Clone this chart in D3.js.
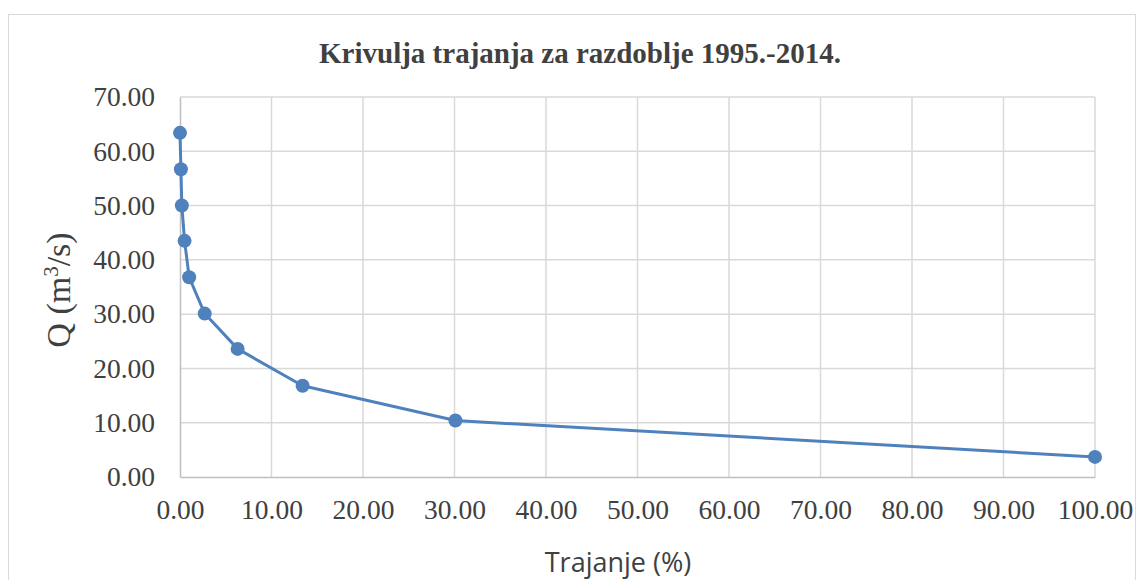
<!DOCTYPE html>
<html lang="hr">
<head>
<meta charset="UTF-8">
<title>Krivulja trajanja</title>
<script src="https://d3js.org/d3.v7.min.js"></script>
<style>
  body { margin: 0; background: #fff; }
  svg text { fill: #404040; }
</style>
</head>
<body>
<div id="chart"></div>
<script>
// Trajanje (%) and Q (m3/s)
const trajanje = [0.0, 0.1, 0.2, 0.5, 1.0, 2.7, 6.3, 13.4, 30.1, 100.0];
const protok = [63.4, 56.7, 50.0, 43.5, 36.8, 30.1, 23.6, 16.8, 10.4, 3.7];
const xTicks = [0, 10, 20, 30, 40, 50, 60, 70, 80, 90, 100];
const yTicks = [0, 10, 20, 30, 40, 50, 60, 70];

const W = 1137, H = 580;
const margin = { top: 97, right: 42, bottom: 103, left: 180 };
const width = W - margin.left - margin.right;
const height = H - margin.top - margin.bottom;

const svg = d3.select("#chart").append("svg")
    .attr("width", W).attr("height", H);

// chart border
svg.append("rect")
    .attr("x", 8.5).attr("y", 14.5)
    .attr("width", W - 10).attr("height", H)
    .attr("fill", "none").attr("stroke", "#d9d9d9");

svg.append("text")
    .attr("x", 580).attr("y", 63)
    .attr("text-anchor", "middle")
    .style("font-family", "'Liberation Serif', serif")
    .style("font-weight", "bold")
    .style("font-size", "29px")
    .text("Krivulja trajanja za razdoblje 1995.-2014.");

const g = svg.append("g").attr("transform", `translate(${margin.left},${margin.top})`);

const x = d3.scaleLinear().domain([0, 100]).range([0, width]);
const y = d3.scaleLinear().domain([0, 70]).range([height, 0]);

// gridlines
g.append("g").selectAll("line").data(xTicks.slice(1)).enter().append("line")
    .attr("x1", d => x(d)).attr("x2", d => x(d))
    .attr("y1", 0).attr("y2", height)
    .attr("stroke", "#d9d9d9").attr("stroke-width", 1.5);
g.append("g").selectAll("line").data(yTicks.slice(1)).enter().append("line")
    .attr("x1", 0).attr("x2", width)
    .attr("y1", d => y(d)).attr("y2", d => y(d))
    .attr("stroke", "#d9d9d9").attr("stroke-width", 1.5);

// axes
const xAxis = g.append("g").attr("transform", `translate(0,${height})`)
    .call(d3.axisBottom(x).tickValues(xTicks).tickSize(0).tickPadding(22).tickFormat(d3.format(".2f")));
const yAxis = g.append("g")
    .call(d3.axisLeft(y).tickValues(yTicks).tickSize(0).tickPadding(25).tickFormat(d3.format(".2f")));
[xAxis, yAxis].forEach(a => {
    a.select(".domain").attr("stroke", "#bfbfbf").attr("stroke-width", 1.5);
    a.selectAll("text")
        .style("font-family", "'Liberation Serif', serif")
        .style("font-size", "27.5px")
        .attr("fill", "#404040");
});

// line + markers
const pts = trajanje.map((t, i) => [t, protok[i]]);
g.append("path")
    .datum(pts)
    .attr("fill", "none")
    .attr("stroke", "#4f81bd")
    .attr("stroke-width", 3)
    .attr("stroke-linejoin", "round")
    .attr("d", d3.line().x(d => x(d[0])).y(d => y(d[1])));
g.selectAll("circle.pt").data(pts).enter().append("circle")
    .attr("class", "pt")
    .attr("cx", d => x(d[0])).attr("cy", d => y(d[1]))
    .attr("r", 7)
    .attr("fill", "#4f81bd");

// axis titles
svg.append("text")
    .attr("transform", "translate(70,290) rotate(-90)")
    .attr("text-anchor", "middle")
    .style("font-family", "'Liberation Serif', serif")
    .style("font-size", "34px")
    .html('Q (m<tspan dy="-12" font-size="21px">3</tspan><tspan dy="12">/s)</tspan>');

svg.append("text")
    .attr("x", 618).attr("y", 572)
    .attr("text-anchor", "middle")
    .style("font-family", "'Open Sans', sans-serif")
    .style("font-size", "27px")
    .text("Trajanje (%)");
</script>
</body>
</html>
